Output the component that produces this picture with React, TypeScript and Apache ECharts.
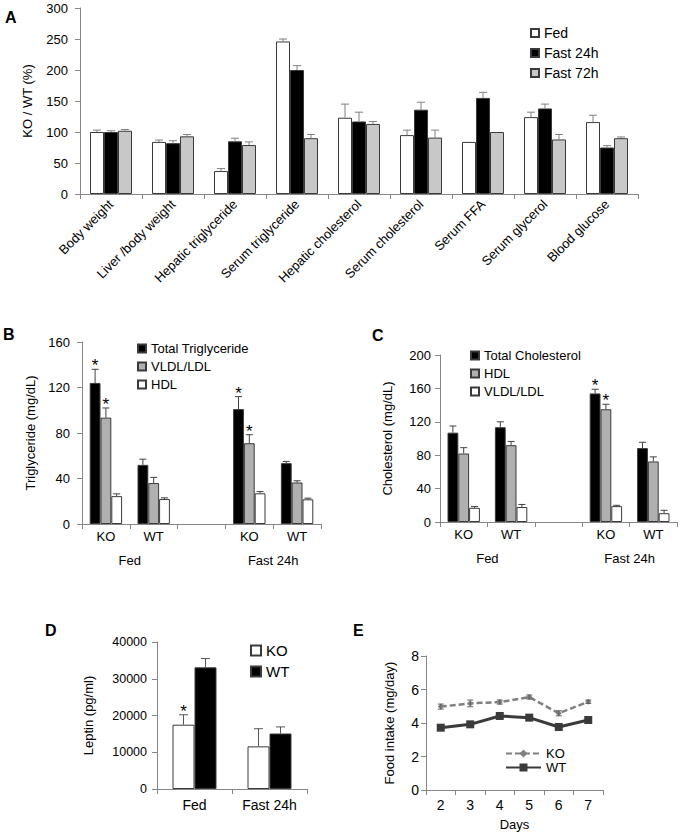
import React, { useEffect, useRef } from "react";
import * as echarts from "echarts";

const FONT = "'Liberation Sans', Arial, Helvetica, sans-serif";
const AXIS_GRAY = "#868686";
const BORDER = "#3a3a3a";

// ---------- Panel A ----------
const aCategories = [
  "Body weight",
  "Liver /body weight",
  "Hepatic triglyceride",
  "Serum triglyceride",
  "Hepatic cholesterol",
  "Serum cholesterol",
  "Serum FFA",
  "Serum glycerol",
  "Blood glucose",
];
const aFed = [100, 84, 37, 246, 123, 95, 84, 124, 116];
const aFedErr = [3, 3, 4, 4, 22, 8, 0, 8, 11];
const aFast24 = [100, 82, 85, 200, 117, 136, 155, 138, 75];
const aFast24Err = [2, 4, 5, 7, 15, 12, 9, 7, 3];
const aFast72 = [102, 93, 79, 90, 113, 91, 100, 88, 90];
const aFast72Err = [2, 3, 5, 6, 4, 12, 0, 8, 2];

// ---------- Panel B ----------
const bCategories = ["KO", "WT", "", "KO", "WT"];
const bGroups = ["Fed", "Fast 24h"];
const bTotal = [124, 52, null, 101, 53.5];
const bTotalErr = [12, 5, null, 11, 1.5];
const bTotalSig = [1, 0, 0, 1, 0];
const bVldl = [93.5, 36, null, 71, 36.5];
const bVldlErr = [8.5, 5, null, 7.5, 1.5];
const bVldlSig = [1, 0, 0, 1, 0];
const bHdl = [24.5, 22, null, 27, 21.7];
const bHdlErr = [2, 1, null, 1.5, 1];

// ---------- Panel C ----------
const cCategories = ["KO", "WT", "", "KO", "WT"];
const cGroups = ["Fed", "Fast 24h"];
const cTotal = [107, 113.5, null, 154, 88.5];
const cTotalErr = [8, 6.5, null, 5, 7];
const cTotalSig = [0, 0, 0, 1, 0];
const cHdl = [82, 92, null, 135, 72.5];
const cHdlErr = [7, 4.5, null, 6, 5.5];
const cHdlSig = [0, 0, 0, 1, 0];
const cVldl = [17, 18, null, 19, 10.5];
const cVldlErr = [1.5, 3, null, 1, 3.5];

// ---------- Panel D ----------
const dCategories = ["Fed", "Fast 24h"];
const dKO = [17500, 11600];
const dKOErr = [2700, 4800];
const dKOSig = [1, 0];
const dWT = [33100, 15100];
const dWTErr = [2400, 1800];

// ---------- Panel E ----------
const eDays = ["2", "3", "4", "5", "6", "7"];
const eKO = [4.98, 5.17, 5.25, 5.55, 4.58, 5.27];
const eKOErr = [0.15, 0.2, 0.12, 0.12, 0.15, 0.1];
const eWT = [3.72, 3.92, 4.42, 4.32, 3.76, 4.18];
const eWTErr = [0.08, 0.08, 0.08, 0.08, 0.08, 0.08];

// ---------- helpers ----------
function errData(vals: (number | null)[], errs: (number | null)[], sigs?: number[]) {
  const out: any[] = [];
  vals.forEach((v, i) => {
    if (v == null) return;
    out.push([i, v, errs[i] ?? 0, sigs ? sigs[i] : 0]);
  });
  return out;
}

function errSeries(
  data: any[],
  barIndex: number,
  nBars: number,
  barW: number,
  capW: number,
  color: string,
  both = false,
  starSize = 17
) {
  return {
    type: "custom",
    silent: true,
    z: 5,
    encode: { x: 0, y: 1 },
    data,
    renderItem: (params: any, api: any) => {
      const i = api.value(0);
      const v = api.value(1);
      const e = api.value(2);
      const s = api.value(3);
      const base = api.coord([i, v]);
      const hi = api.coord([i, v + e]);
      const lo = api.coord([i, both ? v - e : v]);
      const x = base[0] + (barIndex - (nBars - 1) / 2) * barW;
      const ls = { stroke: color, lineWidth: 1 };
      const children: any[] = [];
      if (e > 0) {
        children.push({ type: "line", shape: { x1: x, y1: lo[1], x2: x, y2: hi[1] }, style: ls });
        children.push({ type: "line", shape: { x1: x - capW / 2, y1: hi[1], x2: x + capW / 2, y2: hi[1] }, style: ls });
        if (both) {
          children.push({ type: "line", shape: { x1: x - capW / 2, y1: lo[1], x2: x + capW / 2, y2: lo[1] }, style: ls });
        }
      }
      if (s) {
        children.push({
          type: "text",
          style: {
            text: "*",
            x,
            y: hi[1] + 5,
            align: "center",
            verticalAlign: "bottom",
            fontSize: starSize,
            fontFamily: FONT,
            fill: "#000",
          },
        });
      }
      return { type: "group", children };
    },
  };
}

function bar(name: string, data: any[], color: string, w: number) {
  return {
    type: "bar",
    name,
    data,
    barWidth: w,
    barGap: "0%",
    itemStyle: { color, borderColor: BORDER, borderWidth: 1 },
  };
}

function catAxis(data: string[], fontSize: number, extra: any = {}) {
  return {
    type: "category",
    data,
    axisLine: { lineStyle: { color: AXIS_GRAY, width: 1 } },
    axisTick: { show: true, length: 5, lineStyle: { color: AXIS_GRAY } },
    axisLabel: { color: "#000", fontFamily: FONT, fontSize, interval: 0 },
    ...extra,
  };
}

function valAxis(min: number, max: number, interval: number, name: string, nameGap: number, fontSize: number, margin: number) {
  return {
    type: "value",
    min,
    max,
    interval,
    name,
    nameLocation: "middle",
    nameGap,
    nameTextStyle: { fontSize: 13, color: "#000", fontFamily: FONT },
    axisLine: { show: true, lineStyle: { color: AXIS_GRAY, width: 1 } },
    axisTick: { show: true, length: 5, lineStyle: { color: AXIS_GRAY } },
    splitLine: { show: false },
    axisLabel: {
      color: "#000",
      fontFamily: FONT,
      fontSize,
      margin,
      formatter: (v: number) => String(v),
    },
  };
}

function groupAxis(groups: string[], offset: number) {
  return {
    type: "value",
    min: 0,
    max: 5,
    interval: 1,
    position: "bottom",
    offset,
    axisLine: { show: false },
    axisTick: { show: false },
    splitLine: { show: false },
    axisLabel: {
      color: "#000",
      fontFamily: FONT,
      fontSize: 13,
      margin: 6,
      showMinLabel: true,
      showMaxLabel: true,
      formatter: (v: number) => {
        const gi = (v - 1) / 3;
        return Number.isInteger(gi) && gi >= 0 && gi < groups.length ? groups[gi] : "";
      },
    },
  };
}

function letter(t: string, x: number, y: number) {
  return {
    type: "text",
    left: x,
    top: y,
    style: { text: t, fontSize: 16, fontWeight: "bold", fontFamily: FONT, fill: "#000" },
  };
}

function legendBox(names: string[], left: number, top: number, size: number, gap: number, fontSize: number) {
  return {
    orient: "vertical",
    left,
    top,
    padding: 0,
    icon: "rect",
    itemWidth: size,
    itemHeight: size,
    itemGap: gap,
    textStyle: { fontSize, color: "#000", fontFamily: FONT },
    data: names,
  };
}

// ---------- options ----------
const A_BW = 14;
const optionA = {
  animation: false,
  textStyle: { fontFamily: FONT },
  graphic: [letter("A", 5, 9)],
  grid: { left: 80, top: 8, width: 558, height: 186 },
  legend: legendBox(["Fed", "Fast 24h", "Fast 72h"], 530, 26, 8, 6, 14),
  xAxis: catAxis(aCategories, 13, {
    axisLabel: { color: "#000", fontFamily: FONT, fontSize: 13, interval: 0, rotate: 45, margin: 8 },
  }),
  yAxis: valAxis(0, 300, 50, "KO / WT (%)", 46, 13, 12),
  series: [
    bar("Fed", aFed, "#ffffff", A_BW),
    bar("Fast 24h", aFast24, "#000000", A_BW),
    bar("Fast 72h", aFast72, "#c8c8c8", A_BW),
    errSeries(errData(aFed, aFedErr), 0, 3, A_BW, 8, "#808080"),
    errSeries(errData(aFast24, aFast24Err), 1, 3, A_BW, 8, "#808080"),
    errSeries(errData(aFast72, aFast72Err), 2, 3, A_BW, 8, "#808080"),
  ],
};

const BC_BW = 10.8;
const optionB = {
  animation: false,
  textStyle: { fontFamily: FONT },
  graphic: [letter("B", 3, 326)],
  grid: { left: 82, top: 342, width: 239, height: 182 },
  legend: legendBox(["Total Triglyceride", "VLDL/LDL", "HDL"], 137, 342, 8, 5, 13),
  xAxis: [
    catAxis(bCategories, 13, {
      axisLabel: { color: "#000", fontFamily: FONT, fontSize: 13, interval: 0, margin: 6 },
    }),
    groupAxis(bGroups, 24),
  ],
  yAxis: valAxis(0, 160, 40, "Triglyceride (mg/dL)", 45, 13, 12),
  series: [
    bar("Total Triglyceride", bTotal, "#000000", BC_BW),
    bar("VLDL/LDL", bVldl, "#b0b0b0", BC_BW),
    bar("HDL", bHdl, "#ffffff", BC_BW),
    errSeries(errData(bTotal, bTotalErr, bTotalSig), 0, 3, BC_BW, 7, "#404040"),
    errSeries(errData(bVldl, bVldlErr, bVldlSig), 1, 3, BC_BW, 7, "#404040"),
    errSeries(errData(bHdl, bHdlErr), 2, 3, BC_BW, 7, "#404040"),
  ],
};

const optionC = {
  animation: false,
  textStyle: { fontFamily: FONT },
  graphic: [letter("C", 372, 327)],
  grid: { left: 440, top: 355, width: 237, height: 167 },
  legend: legendBox(["Total Cholesterol", "HDL", "VLDL/LDL"], 470, 349, 8, 5, 13),
  xAxis: [
    catAxis(cCategories, 13, {
      axisLabel: { color: "#000", fontFamily: FONT, fontSize: 13, interval: 0, margin: 6 },
    }),
    groupAxis(cGroups, 24),
  ],
  yAxis: valAxis(0, 200, 40, "Cholesterol (mg/dL)", 46, 13, 9),
  series: [
    bar("Total Cholesterol", cTotal, "#000000", BC_BW),
    bar("HDL", cHdl, "#b0b0b0", BC_BW),
    bar("VLDL/LDL", cVldl, "#ffffff", BC_BW),
    errSeries(errData(cTotal, cTotalErr, cTotalSig), 0, 3, BC_BW, 7, "#404040"),
    errSeries(errData(cHdl, cHdlErr, cHdlSig), 1, 3, BC_BW, 7, "#404040"),
    errSeries(errData(cVldl, cVldlErr), 2, 3, BC_BW, 7, "#404040"),
  ],
};

const D_BW = 22;
const optionD = {
  animation: false,
  textStyle: { fontFamily: FONT },
  graphic: [letter("D", 45, 622)],
  grid: { left: 157, top: 642, width: 150, height: 147 },
  legend: legendBox(["KO", "WT"], 250, 643, 10, 6, 15),
  xAxis: catAxis(dCategories, 14, {
    axisLabel: { color: "#000", fontFamily: FONT, fontSize: 14, interval: 0, margin: 9 },
  }),
  yAxis: valAxis(0, 40000, 10000, "Leptin (pg/ml)", 62, 12.5, 10),
  series: [
    bar("KO", dKO, "#ffffff", D_BW),
    bar("WT", dWT, "#000000", D_BW),
    errSeries(errData(dKO, dKOErr, dKOSig), 0, 2, D_BW, 9, "#555555"),
    errSeries(errData(dWT, dWTErr), 1, 2, D_BW, 9, "#555555"),
  ],
};

const optionE = {
  animation: false,
  textStyle: { fontFamily: FONT },
  graphic: [letter("E", 353, 622)],
  grid: { left: 426, top: 656, width: 177, height: 134 },
  legend: {
    orient: "vertical",
    left: 505,
    top: 747,
    padding: 0,
    itemWidth: 35,
    itemHeight: 10,
    itemGap: 1,
    textStyle: { fontSize: 13, color: "#000", fontFamily: FONT },
    data: ["KO", "WT"],
  },
  xAxis: catAxis(eDays, 14, {
    name: "Days",
    nameLocation: "middle",
    nameGap: 28,
    nameTextStyle: { fontSize: 13, color: "#000", fontFamily: FONT },
    axisLabel: { color: "#000", fontFamily: FONT, fontSize: 14, interval: 0, margin: 8 },
  }),
  yAxis: valAxis(0, 8, 2, "Food intake (mg/day)", 30, 14, 7),
  series: [
    {
      type: "line",
      name: "KO",
      data: eKO,
      symbol: "diamond",
      symbolSize: 6,
      itemStyle: { color: "#808080" },
      lineStyle: { color: "#808080", width: 2.5, type: [6, 3] },
    },
    {
      type: "line",
      name: "WT",
      data: eWT,
      symbol: "rect",
      symbolSize: 8,
      itemStyle: { color: "#3a3a3a" },
      lineStyle: { color: "#3a3a3a", width: 3 },
    },
    errSeries(errData(eKO, eKOErr), 0, 1, 0, 6, "#606060", true),
    errSeries(errData(eWT, eWTErr), 0, 1, 0, 6, "#3a3a3a", true),
  ],
};

function Panel({ option }: { option: any }) {
  const ref = useRef<HTMLDivElement>(null);
  useEffect(() => {
    const chart = echarts.init(ref.current!, null, { renderer: "svg" });
    chart.setOption(option);
    return () => chart.dispose();
  }, [option]);
  return (
    <div
      ref={ref}
      style={{ position: "absolute", left: 0, top: 0, width: 684, height: 836 }}
    />
  );
}

export default function App() {
  return (
    <div
      style={{
        position: "absolute",
        left: 0,
        top: 0,
        width: 684,
        height: 836,
        background: "#ffffff",
        overflow: "hidden",
      }}
    >
      <Panel option={optionA} />
      <Panel option={optionB} />
      <Panel option={optionC} />
      <Panel option={optionD} />
      <Panel option={optionE} />
    </div>
  );
}
